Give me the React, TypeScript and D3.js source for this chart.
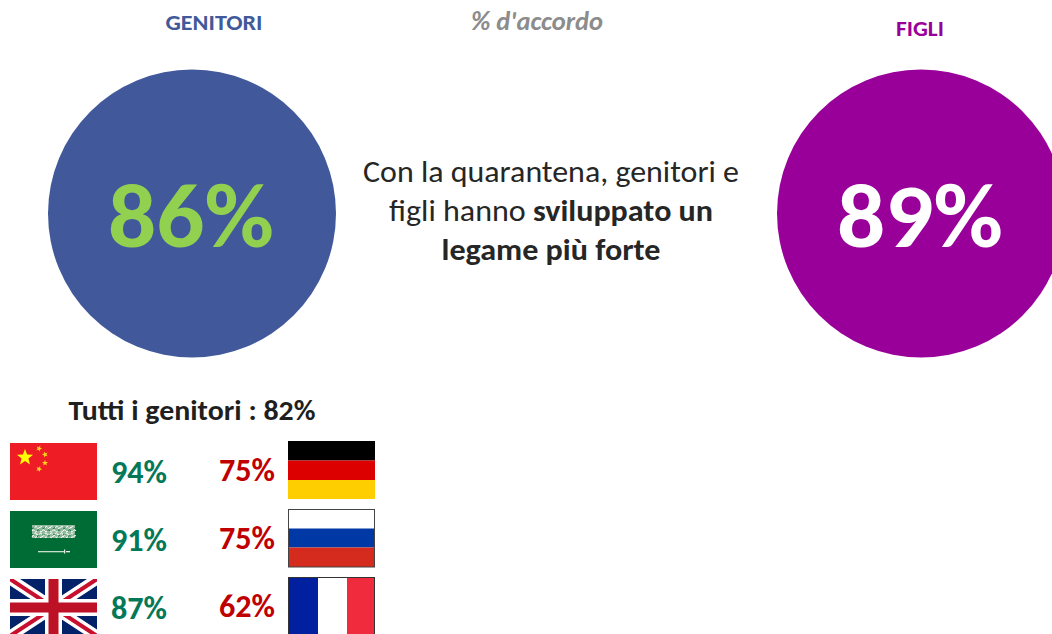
import React from "react";
import * as d3 from "d3";

const W = 1052, H = 634;
const FONT = "Carlito, Calibri, Lato, 'Open Sans', sans-serif";
const leftCountries = ["Cina", "Arabia Saudita", "Regno Unito"];
const leftValues = [94, 91, 87];
const rightCountries = ["Germania", "Russia", "Francia"];
const rightValues = [75, 75, 62];
const bubbleLabels = ["GENITORI", "FIGLI"];
const bubbleValues = [86, 89];
const allParents = 82;

const rowY = d3.scaleLinear().domain([0, 1]).range([443, 511]);
const rowYRight = d3.scaleLinear().domain([0, 1]).range([441, 509]);
const FW = 87, FH = 57;

function starPath(cx: number, cy: number, r: number, rot = 0) {
  const pts: [number, number][] = d3.range(10).map((i) => {
    const rad = i % 2 ? r * 0.42 : r;
    const a = -Math.PI / 2 + rot + (i * Math.PI) / 5;
    return [cx + rad * Math.cos(a), cy + rad * Math.sin(a)];
  });
  return d3.line()(pts) + "Z";
}

function China({ x, y }: { x: number; y: number }) {
  return (
    <g transform={`translate(${x},${y})`}>
      <rect width={FW} height={FH} fill="#EE1C25" />
      <path d={starPath(15, 14.5, 8.5)} fill="#FFFF00" />
      <path d={starPath(29, 5.5, 3.2, 0.4)} fill="#FFD21E" />
      <path d={starPath(35, 11.5, 3.2, 0.9)} fill="#FFD21E" />
      <path d={starPath(35, 20, 3.2, 0)} fill="#FFD21E" />
      <path d={starPath(29, 26, 3.2, 0.4)} fill="#FFD21E" />
    </g>
  );
}

const scriptRows = [17, 20, 23, 26];
const scriptCols = d3.range(0, 42, 2.6);

function Saudi({ x, y }: { x: number; y: number }) {
  return (
    <g transform={`translate(${x},${y})`}>
      <rect width={FW} height={FH} fill="#006C35" />
      <rect x={22} y={14} width={43} height={13} fill="#8FB89C" />
      {scriptRows.map((ry, j) =>
        scriptCols.map((cx, i) => (
          <path
            key={`${j}-${i}`}
            d={`M${22 + cx},${ry} q1,${(i + j) % 2 ? -3 : 2} 2.4,${(i * 3 + j) % 3 - 1}`}
            fill="none"
            stroke={(i + j * 2) % 4 === 0 ? "#1B7440" : "#ffffff"}
            strokeWidth={1}
          />
        ))
      )}
      <rect x={28} y={40} width={27} height={1.3} fill="#C9DDCD" />
      <rect x={54} y={38.5} width={1.2} height={4} fill="#E4EEE6" />
      <rect x={56} y={40} width={4} height={1.3} fill="#E4EEE6" />
    </g>
  );
}

function UK({ x, y }: { x: number; y: number }) {
  const fh = 57;
  return (
    <g transform={`translate(${x},${y})`}>
      <clipPath id="uk-clip"><rect width={FW} height={fh} /></clipPath>
      <g clipPath="url(#uk-clip)">
        <rect width={FW} height={fh} fill="#012169" />
        <path d={`M0,0L${FW},${fh}M${FW},0L0,${fh}`} stroke="#fff" strokeWidth={11} />
        <path d={`M0,0L${FW},${fh}M${FW},0L0,${fh}`} stroke="#C8102E" strokeWidth={4} />
        <path d={`M${FW / 2},0V${fh}M0,${fh / 2}H${FW}`} stroke="#fff" strokeWidth={17} />
        <path d={`M${FW / 2},0V${fh}M0,${fh / 2}H${FW}`} stroke="#BD1126" strokeWidth={10} />
      </g>
    </g>
  );
}

function Germany({ x, y }: { x: number; y: number }) {
  return (
    <g transform={`translate(${x},${y})`}>
      <rect width={FW} height={19.5} fill="#000" />
      <rect y={19.5} width={FW} height={19.5} fill="#DD0000" />
      <rect y={39} width={FW} height={19} fill="#FFCE00" />
    </g>
  );
}

function Russia({ x, y }: { x: number; y: number }) {
  return (
    <g transform={`translate(${x},${y})`}>
      <rect width={FW} height={19.5} fill="#fff" />
      <rect y={19.5} width={FW} height={19} fill="#0039A6" />
      <rect y={38.5} width={FW} height={19.5} fill="#D52B1E" />
      <rect x={0.5} y={0.5} width={FW - 1} height={57.5} fill="none" stroke="#444" strokeWidth={1} />
    </g>
  );
}

function France({ x, y }: { x: number; y: number }) {
  return (
    <g transform={`translate(${x},${y})`}>
      <rect width={30} height={57} fill="#00209F" />
      <rect x={30} width={29} height={57} fill="#fff" />
      <rect x={59} width={28} height={57} fill="#EF2B3D" />
      <rect x={0.5} y={0.5} width={FW - 1} height={60} fill="none" stroke="#333" strokeWidth={1} />
    </g>
  );
}

const LEFT_FLAGS = [China, Saudi, UK];
const RIGHT_FLAGS = [Germany, Russia, France];
const GREEN = "#047857";
const RED = "#C00000";

export default function App() {
  return (
    <svg
      width={W}
      height={H}
      viewBox={`0 0 ${W} ${H}`}
      style={{ position: "absolute", left: 0, top: 0, fontFamily: FONT }}
    >
      <rect width={W} height={H} fill="#fff" />

      <text x={214} y={30} textAnchor="middle" fontSize={22} fontWeight={700} fill="#41599B" textLength={97} lengthAdjust="spacingAndGlyphs">{bubbleLabels[0]}</text>
      <text x={537} y={30} textAnchor="middle" fontSize={26} fontWeight={700} fontStyle="italic" fill="#8C8C8C" textLength={132} lengthAdjust="spacingAndGlyphs">% d'accordo</text>
      <text x={920} y={36} textAnchor="middle" fontSize={22} fontWeight={700} fill="#990099" textLength={48} lengthAdjust="spacingAndGlyphs">{bubbleLabels[1]}</text>

      <circle cx={192} cy={213.5} r={144} fill="#41599B" />
      <circle cx={921} cy={213.5} r={144} fill="#990099" />
      <text x={191} y={247} textAnchor="middle" fontSize={92} fontWeight={700} fill="#92D050" textLength={166} lengthAdjust="spacingAndGlyphs">{bubbleValues[0]}%</text>
      <text x={920} y={247} textAnchor="middle" fontSize={92} fontWeight={700} fill="#fff" textLength={166} lengthAdjust="spacingAndGlyphs">{bubbleValues[1]}%</text>

      <g fontSize={30.5} fill="#262626" textAnchor="middle">
        <text x={551} y={182} textLength={376} lengthAdjust="spacingAndGlyphs">Con la quarantena, genitori e</text>
        <text x={551} y={221} textLength={324} lengthAdjust="spacingAndGlyphs">figli hanno <tspan fontWeight={700}>sviluppato un</tspan></text>
        <text x={551} y={260} fontWeight={700} textLength={219} lengthAdjust="spacingAndGlyphs">legame più forte</text>
      </g>

      <text x={192} y={420} textAnchor="middle" fontSize={28.5} fontWeight={700} fill="#1F1F1F" textLength={247} lengthAdjust="spacingAndGlyphs">Tutti i genitori : {allParents}%</text>

      {leftCountries.map((c, i) => {
        const Flag = LEFT_FLAGS[i];
        return (
          <g key={c}>
            <Flag x={10} y={rowY(i)} />
            <text x={139} y={rowY(i) + 40} textAnchor="middle" fontSize={32} fontWeight={700} fill={GREEN} textLength={56} lengthAdjust="spacingAndGlyphs">{leftValues[i]}%</text>
          </g>
        );
      })}
      {rightCountries.map((c, i) => {
        const Flag = RIGHT_FLAGS[i];
        return (
          <g key={c}>
            <Flag x={288} y={rowYRight(i)} />
            <text x={247} y={rowYRight(i) + 40} textAnchor="middle" fontSize={32} fontWeight={700} fill={RED} textLength={56} lengthAdjust="spacingAndGlyphs">{rightValues[i]}%</text>
          </g>
        );
      })}
    </svg>
  );
}
